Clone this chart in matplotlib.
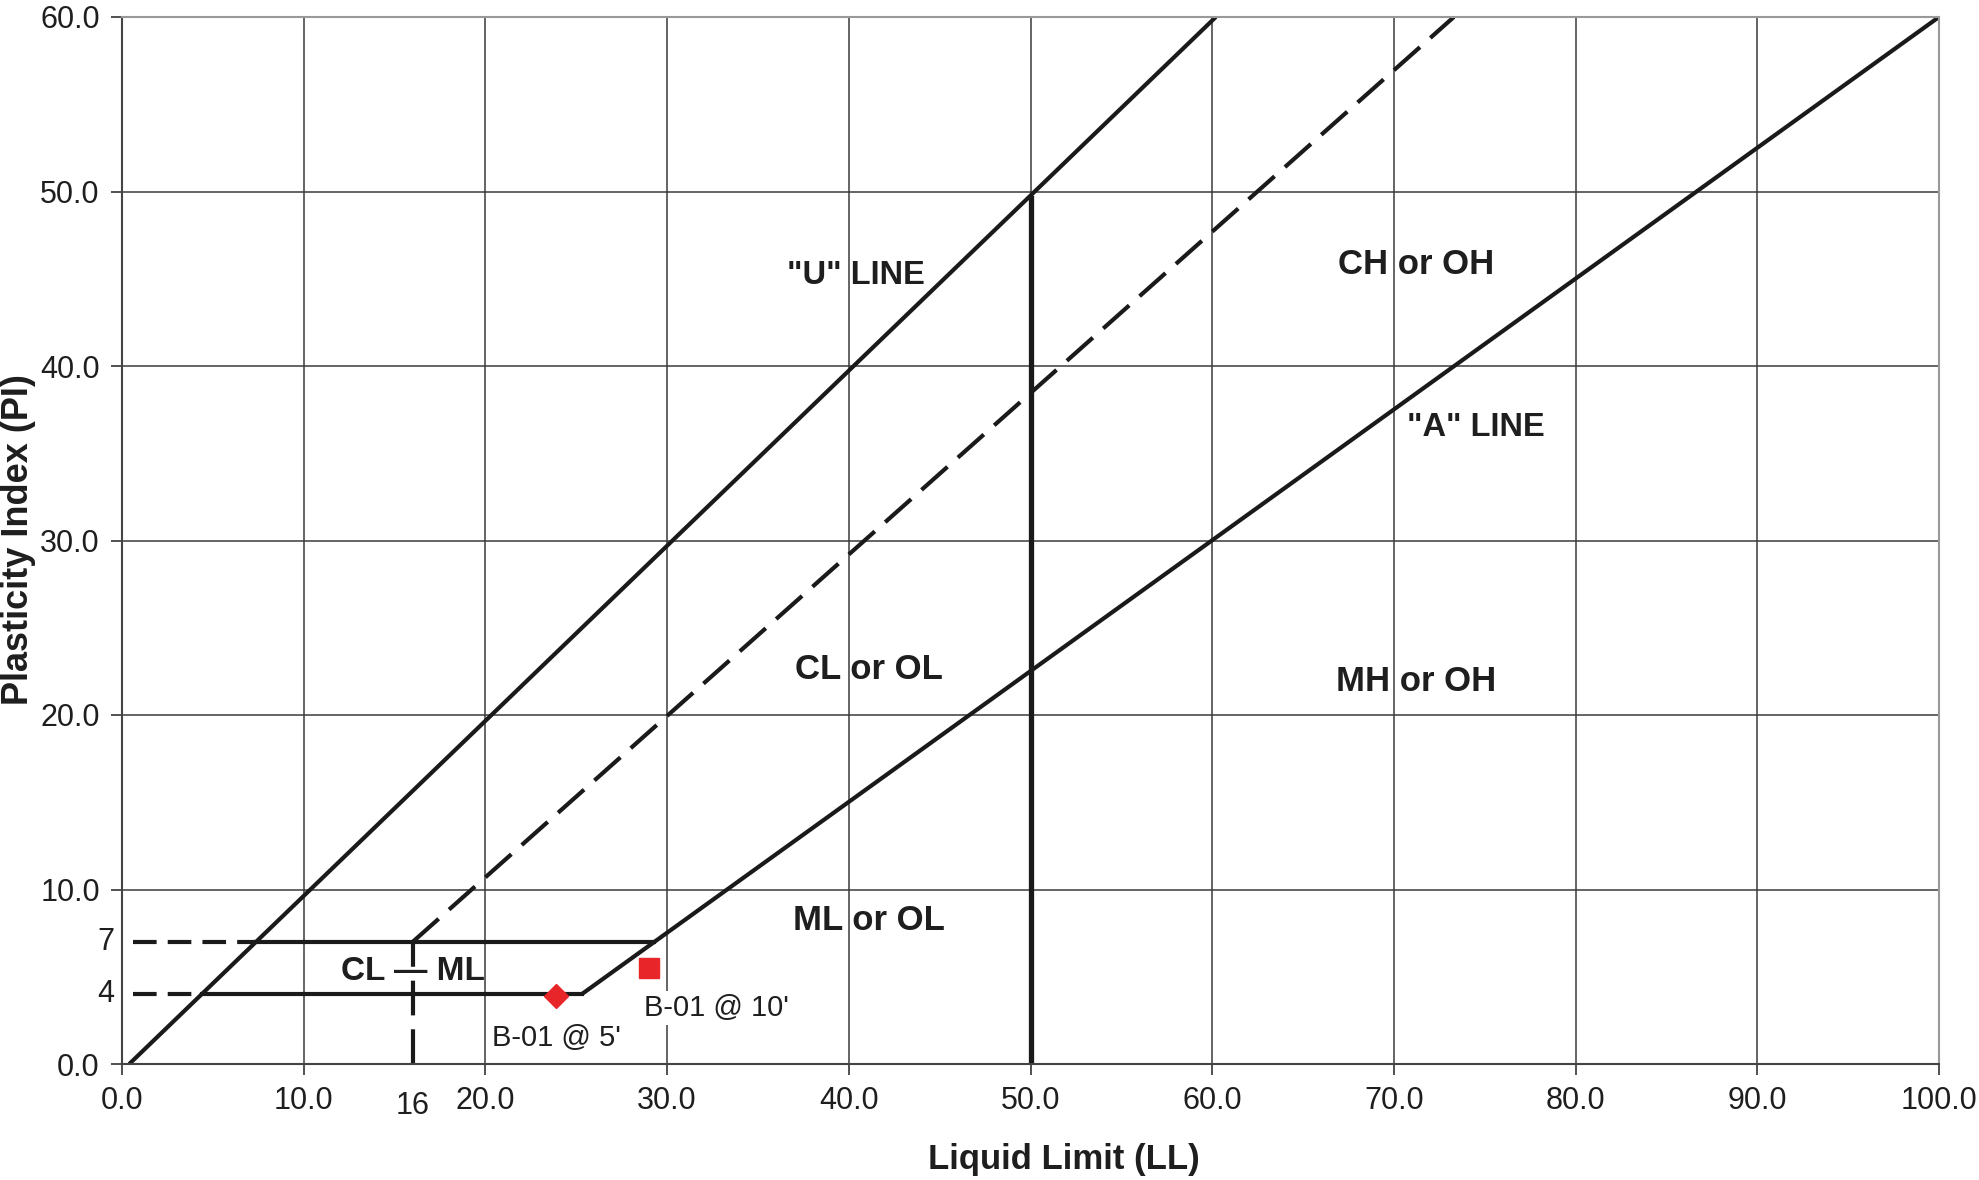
import matplotlib
matplotlib.use("Agg")
import matplotlib.pyplot as plt
import matplotlib.transforms as mtransforms

plt.rcParams['font.family'] = ['Liberation Sans', 'DejaVu Sans']
plt.rcParams['lines.scale_dashes'] = False

# ---- data ----
x_ticks = [0, 10, 20, 30, 40, 50, 60, 70, 80, 90, 100]
y_ticks = [0, 10, 20, 30, 40, 50, 60]
x_ticklabels = ["0.0", "10.0", "20.0", "30.0", "40.0", "50.0", "60.0", "70.0", "80.0", "90.0", "100.0"]
y_ticklabels = ["0.0", "10.0", "20.0", "30.0", "40.0", "50.0", "60.0"]

u_line_ll = [0.4, 60.2]
u_line_pi = [0.0, 60.0]
a_line_ll = [25.3, 100.0]
a_line_pi = [4.0, 60.0]
dash_line_ll = [16.0, 73.3]
dash_line_pi = [7.0, 60.0]
pi7_solid_ll = [7.3, 29.3]
pi4_solid_ll = [4.4, 25.3]
pi7_dash_ll = [0.6, 7.3]
pi4_dash_ll = [0.6, 4.4]
ll50_pi = [0.0, 49.6]
ll16_pi = [0.0, 7.0]

sample_names = ["B-01 @ 5'", "B-01 @ 10'"]
sample_ll = [23.9, 29.0]
sample_pi = [3.9, 5.5]
sample_markers = ["D", "s"]
sample_label_ll = [23.9, 32.7]
sample_label_pi = [1.5, 3.2]

zone_labels = ['"U" LINE', 'CH or OH', '"A" LINE', 'CL or OL', 'MH or OH', 'ML or OL', 'CL \u2014 ML']
zone_ll = [40.4, 71.2, 74.5, 41.1, 71.2, 41.1, 16.0]
zone_pi = [45.2, 45.8, 36.5, 22.6, 21.9, 8.2, 5.3]
zone_sizes = [23.5, 25, 23.5, 25, 25, 25, 24]

# ---- figure ----
fig = plt.figure(figsize=(19.79, 11.80), dpi=100)
ax = fig.add_axes([122/1979, 1 - 1064/1180, (1939-122)/1979, (1064-17)/1180])
ax.set_xlim(0, 100)
ax.set_ylim(0, 60)

ax.set_xticks(x_ticks)
ax.set_xticklabels(x_ticklabels)
ax.set_yticks(y_ticks)
ax.set_yticklabels(y_ticklabels)
ax.tick_params(axis='both', direction='out', length=8, width=1.2, color='#333333',
               labelsize=22, labelcolor='#1e1e1e', pad=8)
ax.grid(True, color='#3a3a3a', linewidth=1.1)
ax.set_axisbelow(True)
for side in ['left', 'bottom']:
    ax.spines[side].set_color('#444444')
    ax.spines[side].set_linewidth(1.5)
for side in ['top', 'right']:
    ax.spines[side].set_color('#999999')
    ax.spines[side].set_linewidth(1.5)

lw = 3.0
col = '#1a1a1a'
ax.plot(u_line_ll, u_line_pi, color=col, lw=lw, solid_capstyle='butt')
ax.plot(a_line_ll, a_line_pi, color=col, lw=lw, solid_capstyle='butt')
ax.plot(dash_line_ll, dash_line_pi, color=col, lw=lw, linestyle=(0, (25, 10)))
ax.plot(pi7_solid_ll, [7, 7], color=col, lw=lw)
ax.plot(pi4_solid_ll, [4, 4], color=col, lw=lw)
ax.plot(pi7_dash_ll, [7, 7], color=col, lw=lw, linestyle=(0, (17, 8)))
ax.plot(pi4_dash_ll, [4, 4], color=col, lw=lw, linestyle=(0, (17, 8)))
ax.plot([50, 50], ll50_pi, color=col, lw=3.8)
ax.plot([16, 16], ll16_pi, color=col, lw=lw, linestyle=(0, (25, 10)))

for xv, yv, m in zip(sample_ll, sample_pi, sample_markers):
    ax.plot([xv], [yv], marker=m, color='#e8262a', markersize=14 if m == 's' else 12,
            linestyle='none', zorder=5)
for name, xv, yv in zip(sample_names, sample_label_ll, sample_label_pi):
    ax.text(xv, yv, name, fontsize=21, color='#1e1e1e', ha='center', va='center',
            bbox=dict(facecolor='white', edgecolor='none', pad=2), zorder=4)

for lab, xv, yv, fs in zip(zone_labels, zone_ll, zone_pi, zone_sizes):
    ax.text(xv, yv, lab, fontsize=fs, fontweight='bold', color='#1e1e1e',
            ha='center', va='center', zorder=3)

# extra axis labels 7, 4 and 16
ytrans = mtransforms.blended_transform_factory(fig.transFigure, ax.transData)
ax.text(114/1979, 7, "7", transform=ytrans, fontsize=22, color='#1e1e1e', ha='right', va='center')
ax.text(114/1979, 4, "4", transform=ytrans, fontsize=22, color='#1e1e1e', ha='right', va='center')
xtrans = mtransforms.blended_transform_factory(ax.transData, fig.transFigure)
ax.text(16, 1 - 1106/1180, "16", transform=xtrans, fontsize=22, color='#1e1e1e', ha='center', va='center')

fig.text(1064/1979, 1 - 1159/1180, "Liquid Limit (LL)", fontsize=25, fontweight='bold',
         color='#1e1e1e', ha='center', va='center')
fig.text(19/1979, 1 - 540/1180, "Plasticity Index (PI)", fontsize=26, fontweight='bold',
         color='#1e1e1e', ha='center', va='center', rotation=90)

fig.savefig("out.png", dpi=100, facecolor='white')
